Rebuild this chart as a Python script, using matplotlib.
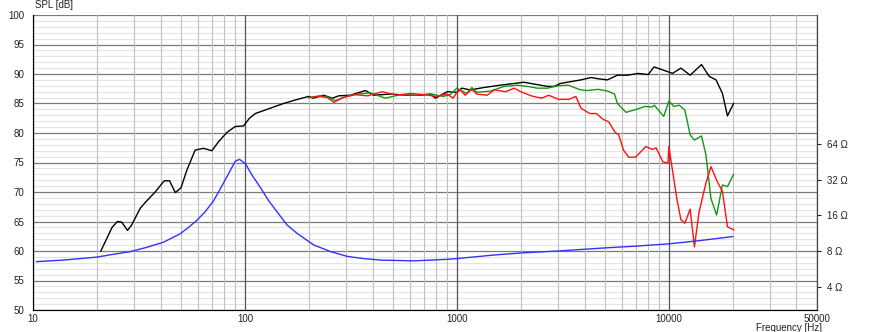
import matplotlib
matplotlib.use("Agg")
import matplotlib.pyplot as plt
from matplotlib.ticker import FixedLocator, NullFormatter

# SPL, black curve (Hz, dB)
black_f = [20.9, 23.6, 25.0, 26.2, 27.9, 29.2, 32.0, 33.8, 37.7, 41.6, 44.1, 46.9, 49.9, 53.2,
           58.2, 63.7, 69.8, 75.0, 82.2, 90.0, 98.5, 105, 112, 134, 152, 173, 200, 210, 235,
           258, 277, 314, 370, 405, 486, 582, 673, 750, 792, 900, 1000, 1055, 1157, 1335,
           1600, 2070, 2310, 2670, 2870, 3080, 3840, 4300, 4620, 5130, 5720, 6400, 7150,
           7990, 8510, 9170, 9870, 10400, 11400, 12600, 14260, 15500, 16700, 17900, 18900, 20200]
black_db = [60.0, 64.0, 65.0, 64.9, 63.5, 64.4, 67.2, 68.2, 70.0, 71.9, 71.9, 69.9, 70.7, 73.7,
            77.1, 77.4, 77.0, 78.5, 80.1, 81.1, 81.2, 82.5, 83.3, 84.3, 85.0, 85.6, 86.2, 85.9, 86.4,
            85.9, 86.3, 86.4, 87.2, 86.4, 86.6, 86.4, 86.4, 86.6, 85.9, 87.0, 86.9, 87.6, 87.3, 87.7,
            88.1, 88.6, 88.3, 87.9, 87.9, 88.4, 89.0, 89.4, 89.2, 89.0, 89.8, 89.8, 90.1,
            89.9, 91.2, 90.8, 90.4, 90.1, 91.0, 89.8, 91.6, 89.6, 89.0, 86.7, 82.9, 85.0]

# SPL, red curve
red_f = [200, 225, 245, 263, 290, 330, 380, 444, 520, 600, 700, 800, 900, 960, 1000, 1040,
         1093, 1177, 1240, 1390, 1500, 1700, 1860, 2000, 2240, 2510, 2710, 3020, 3380, 3640,
         3850, 4230, 4550, 4900, 5200, 5580, 5800, 6110, 6460, 6960, 7790, 8380, 8700, 9380,
         9900, 10000, 10900, 11400, 11900, 12600, 13200, 13900, 14960, 15800, 16900, 17900,
         18900, 20200]
red_db = [86.0, 86.2, 86.0, 85.2, 86.0, 86.5, 86.3, 87.0, 86.4, 86.7, 86.5, 86.2, 86.6, 85.9, 86.9, 87.3,
          86.4, 87.4, 86.6, 86.4, 87.3, 87.0, 87.6, 87.0, 86.3, 85.9, 86.4, 85.7, 85.7, 86.2,
          84.2, 83.3, 83.3, 82.3, 81.9, 80.1, 79.7, 77.1, 75.9, 75.9, 77.7, 77.2, 77.5, 75.1,
          74.9, 77.7, 68.9, 65.3, 64.7, 67.1, 60.7, 66.7, 71.5, 74.3, 71.8, 70.1,
          64.1, 63.6]

# SPL, green curve
green_f = [200, 225, 245, 268, 300, 340, 390, 460, 540, 640, 760, 860, 930, 1000, 1110, 1177,
           1240, 1440, 1670, 1930, 2150, 2400, 2670, 3000, 3350, 3840, 4130, 4630, 5150, 5540,
           5720, 6280, 7020, 7710, 8320, 8550, 9460, 10000, 10580, 11200, 11900, 12600, 13200,
           14260, 14960, 15800, 16800, 17900, 18900, 20200]
green_db = [86.0, 86.3, 86.1, 85.5, 86.2, 86.6, 86.8, 85.9, 86.5, 86.4, 86.6, 86.2, 86.5, 87.6, 86.7, 87.7,
            86.9, 87.1, 87.9, 88.1, 87.9, 87.6, 87.6, 88.0, 88.1, 87.3, 87.2, 87.4, 87.1, 86.6,
            85.0, 83.5, 84.0, 84.5, 84.4, 84.7, 82.8, 85.4, 84.5, 84.7, 83.9, 79.7, 78.8,
            79.5, 76.3, 68.9, 66.1, 71.2, 70.9, 73.0]

# impedance, blue curve (Hz, ohm)
imp_f = [10.4, 13.9, 16.7, 20.0, 23.9, 28.7, 34.5, 41.3, 49.5, 54.2, 59.4, 64.9, 71.2, 77.8,
         85.4, 89.9, 94.1, 100.5, 108, 118.6, 129, 142, 158, 176, 211, 254, 304, 362, 436,
         626, 900, 1000, 1500, 2000, 3000, 5000, 7000, 10000, 14000, 20000]
imp_ohm = [6.5, 6.7, 6.9, 7.1, 7.5, 7.9, 8.6, 9.5, 11.2, 12.7, 14.6, 17.2, 21.4, 28.4,
           38.7, 45.9, 47.9, 43.9, 35.2, 27.4, 21.5, 17.1, 13.3, 11.3, 9.0, 7.9, 7.2, 6.9, 6.7,
           6.6, 6.8, 6.9, 7.4, 7.7, 8.0, 8.5, 8.8, 9.2, 9.8, 10.6]

x_ticks = [10, 100, 1000, 10000, 50000]
y_ticks = [50, 55, 60, 65, 70, 75, 80, 85, 90, 95, 100]
z_ticks = [4, 8, 16, 32, 64]

plt.rcParams['font.family'] = ['Liberation Sans', 'DejaVu Sans']
plt.rcParams['font.size'] = 7

fig = plt.figure(figsize=(8.74, 3.32), dpi=100)
ax = fig.add_axes([33 / 874, 22 / 332, 784 / 874, 295 / 332])

ax.set_xscale('log')
ax.set_xlim(10, 50000)
ax.set_ylim(50, 100)

# grid
ax.set_yticks(y_ticks)
ax.yaxis.set_minor_locator(FixedLocator([v for v in range(50, 101) if v % 5]))
minor_x = [m * 10 ** d for d in range(1, 5) for m in range(2, 10) if m * 10 ** d < 50000]
ax.xaxis.set_major_locator(FixedLocator(x_ticks))
ax.xaxis.set_minor_locator(FixedLocator(minor_x))
ax.xaxis.set_minor_formatter(NullFormatter())
ax.set_xticklabels([str(v) for v in x_ticks])
ax.grid(True, which='major', axis='y', color='#7a7a7a', lw=0.9)
ax.grid(True, which='minor', axis='y', color='#e4e4e4', lw=0.8)
ax.grid(True, which='major', axis='x', color='#555555', lw=0.9)
ax.grid(True, which='minor', axis='x', color='#c0c0c0', lw=0.8)
ax.set_axisbelow(True)
# vertical grid over the horizontal one, so it stays solid
ax.yaxis.set_zorder(0.4)
ax.xaxis.set_zorder(0.6)
ax.tick_params(which='both', length=0, labelsize=7, colors='#222222')
ax.tick_params(axis='y', pad=6)
ax.tick_params(axis='x', pad=3)
for s in ['left', 'bottom', 'right']:
    ax.spines[s].set_color('#444444')
ax.spines['top'].set_visible(False)

ax.plot(black_f, black_db, color='black', lw=1)
ax.plot(green_f, green_db, color='#119911', lw=1)
ax.plot(red_f, red_db, color='#ff1111', lw=1)

# impedance on right axis
ax2 = ax.twinx()
ax2.set_yscale('log')
ax2.set_ylim(8 * 10 ** (-10 / 20), 8 * 10 ** (40 / 20))
ax2.yaxis.set_major_locator(FixedLocator(z_ticks))
ax2.yaxis.set_minor_locator(FixedLocator([]))
ax2.set_yticklabels([f'{v} \u03a9' for v in z_ticks])
ax2.tick_params(axis='y', length=3, labelsize=7, colors='#222222', pad=4)
ax2.spines['top'].set_visible(False)
ax2.spines['right'].set_color('#444444')
ax2.plot(imp_f, imp_ohm, color='#3333ff', lw=1)

fig.text(35 / 874, 1 - 5 / 332, 'SPL [dB]', ha='left', va='center', fontsize=7, color='#222222')
fig.text(822 / 874, 9 / 332, 'Frequency [Hz]', ha='right', va='top',
         fontsize=7, color='#222222')

fig.savefig('out.png', dpi=100)
